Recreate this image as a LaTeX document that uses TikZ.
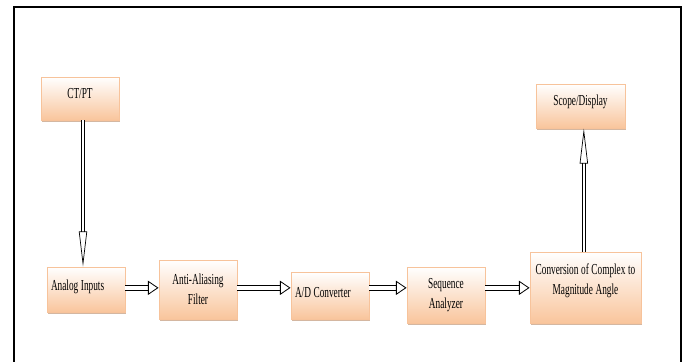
\documentclass[tikz,border=0pt]{standalone}
\usepackage{fontspec}
\usepackage{xcolor}
\usetikzlibrary{positioning, arrows.meta, shadows}
\newfontfamily\blockfont[FakeStretch=0.61]{Liberation Serif}
\definecolor{peach}{HTML}{F9C59C}
\definecolor{peachline}{HTML}{F7C39B}
\definecolor{peachshadow}{HTML}{C9A58A}

\begin{document}
\begin{tikzpicture}[
  block/.style={draw=peachline, line width=0.8pt, top color=white, bottom color=peach,
    minimum width=2.34cm, minimum height=1.3cm, align=center, inner sep=2pt,
    font=\blockfont\fontsize{13}{17}\selectfont,
    execute at begin node={\spaceskip=0.17em\relax},
    drop shadow={shadow xshift=0.5pt, shadow yshift=-1.5pt, fill=peachshadow, opacity=0.8}},
  flatarr/.style={double, double distance=3.2pt, line width=0.7pt,
    -{Triangle[open, length=9pt, width=12pt, line width=0.7pt]}},
  thinarr/.style={double, double distance=2pt, line width=0.6pt,
    -{Triangle[open, length=30pt, width=7pt, line width=0.6pt]}}
]
\useasboundingbox (0,0) rectangle (20.49,10.86);

% frame round the figure
\draw[line width=1.7pt] (0.42,-0.2) |- (20.43,10.65) -- (20.43,-0.2);

% blocks
\node[block, minimum height=1.29cm, text depth=0.3cm] (ctpt) at (2.40,7.905) {CT/PT};
\node[block, minimum width=2.67cm, minimum height=1.32cm, text depth=0.32cm] (scope) at (17.415,7.68) {Scope/Display};
\node[block, minimum height=1.35cm, text width=2.1cm, align=left, text depth=0.28cm] (ai) at (2.58,2.175) {Analog Inputs};
\node[block, minimum height=1.77cm] (aaf) at (5.94,2.175) {Anti-Aliasing\\Filter};
\node[block, minimum height=1.41cm, text width=2.1cm, align=left, text depth=0.2cm] (adc) at (9.90,1.995) {A/D Converter};
\node[block, minimum height=1.68cm] (seq) at (13.38,2.01) {Sequence\\Analyzer};
\node[block, minimum width=3.33cm, minimum height=2.13cm, text depth=0.5cm] (conv) at (17.565,2.235) {Conversion of Complex to\\Magnitude Angle};

% connectors
\draw[thinarr] ([xshift=0.09cm]ctpt.south) -- ([xshift=0.09cm]ctpt.south |- ai.north);
\draw[flatarr] ([yshift=0.05cm]ai.east) -- ([yshift=0.05cm]ai.east -| aaf.west);
\draw[flatarr] ([yshift=0.05cm]aaf.east) -- ([yshift=0.05cm]aaf.east -| adc.west);
\draw[flatarr] ([yshift=0.05cm]aaf.east -| adc.east) -- ([yshift=0.05cm]aaf.east -| seq.west);
\draw[flatarr] ([yshift=0.05cm]aaf.east -| seq.east) -- ([yshift=0.05cm]aaf.east -| conv.west);
\draw[thinarr] ([xshift=-0.05cm]conv.north) -- ([xshift=-0.05cm]conv.north |- scope.south);

\end{tikzpicture}
\end{document}
